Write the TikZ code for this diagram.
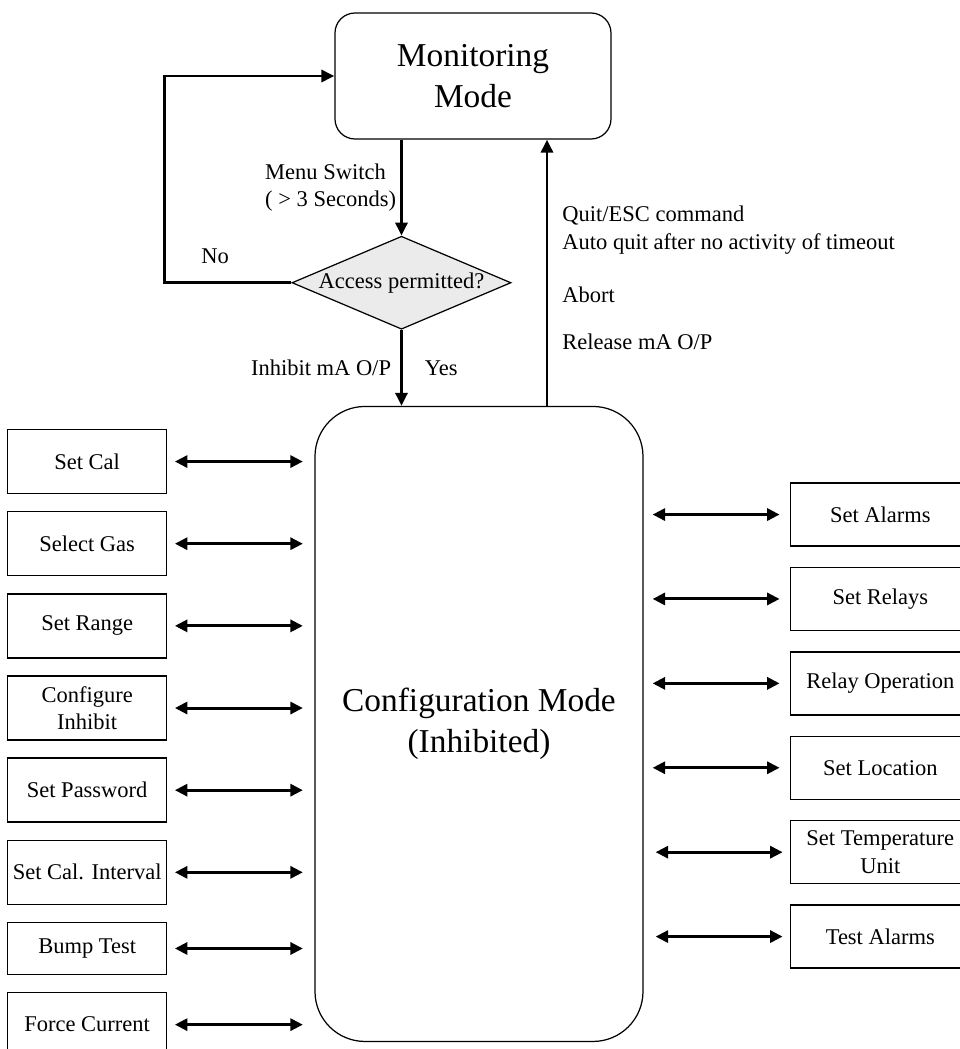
\documentclass[tikz,border=0pt]{standalone}
\usepackage{fontspec}
\setmainfont{Liberation Serif}
\usepackage{tikz}
\usetikzlibrary{shapes.geometric, arrows.meta, positioning}

\begin{document}
\begin{tikzpicture}[
  node distance=3.35mm,
  font=\fontsize{12.8}{15.6}\selectfont,
  mode/.style={rectangle, draw=black, line width=0.7pt, align=center,
               font=\fontsize{19}{23.4}\selectfont},
  decision/.style={diamond, aspect=2.35, draw=black, line width=0.7pt,
                   fill=black!8, inner sep=0pt, minimum width=43.8mm,
                   minimum height=18.6mm},
  opt/.style={rectangle, draw=black, line width=0.8pt, align=center,
              inner xsep=1mm, minimum width=31.8mm, minimum height=12.8mm},
  optr/.style={opt, minimum width=36mm, minimum height=12.6mm},
  lbl/.style={inner sep=0.5mm, align=left},
  arr/.style={-{Triangle[length=2.6mm, width=2.4mm]}, line width=1.7pt},
  link/.style={{Triangle[length=2.5mm, width=2.4mm]}-{Triangle[length=2.5mm, width=2.4mm]},
               line width=1.7pt}
]

% ---- page frame ----
\useasboundingbox (-94.6mm,15.2mm) rectangle (97.4mm,-194.6mm);
\clip (-94.6mm,15.2mm) rectangle (97.4mm,-194.6mm);

% ---- Modes and decision ----
\node[mode, rounded corners=4mm, minimum width=55.2mm, minimum height=25.2mm]
  (mon) {Monitoring\\Mode};
\node[decision, below=19.2mm of mon, xshift=-14.3mm] (acc) {Access permitted?};
\node[mode, rounded corners=10mm, minimum width=65.6mm, minimum height=127mm,
      below=15.2mm of acc, xshift=15.5mm] (cfg) {Configuration Mode\\(Inhibited)};

\draw[arr] (acc.north |- mon.south) -- node[lbl, left=0.3mm] {Menu Switch\\( > 3 Seconds)} (acc.north);
\draw[arr] (acc.south) -- node[lbl, left=1.3mm] {Inhibit mA O/P}
  node[lbl, right=3.9mm] {Yes} (acc.south |- cfg.north);
\draw[arr] (acc.west) -- node[lbl, above=3mm, pos=0.6] {No} ++(-25.4mm,0) |- (mon.west);

% return path
\coordinate[right=13.6mm of cfg.north] (back);
\draw[arr] (back) -- node[lbl, right=2.3mm, pos=0.48]
  {Quit/ESC command\\Auto quit after no activity of timeout\\[5.2mm]Abort\\[4mm]Release mA O/P}
  (back |- mon.south);

% ---- Left column ----
\node[opt, below left=4.6mm and 29.4mm of cfg.north west] (cal) {Set Cal};
\node[opt, below=of cal]   (gas)   {Select Gas};
\node[opt, below=of gas]   (range) {Set Range};
\node[opt, below=of range] (inh)   {Configure\\Inhibit};
\node[opt, below=of inh]   (pwd)   {Set Password};
\node[opt, below=of pwd]   (intv)  {Set Cal. Interval};
\node[opt, below=of intv, minimum height=10.4mm] (bump) {Bump Test};
\node[opt, below=of bump]  (force) {Force Current};

\draw[link, shorten <=1.5mm, shorten >=2.3mm] (cal.east)   -- (cal.east -| cfg.west);
\draw[link, shorten <=1.5mm, shorten >=2.3mm] (gas.east)   -- (gas.east -| cfg.west);
\draw[link, shorten <=1.5mm, shorten >=2.3mm] (range.east) -- (range.east -| cfg.west);
\draw[link, shorten <=1.5mm, shorten >=2.3mm] (inh.east)   -- (inh.east -| cfg.west);
\draw[link, shorten <=1.5mm, shorten >=2.3mm] (pwd.east)   -- (pwd.east -| cfg.west);
\draw[link, shorten <=1.5mm, shorten >=2.3mm] (intv.east)  -- (intv.east -| cfg.west);
\draw[link, shorten <=1.5mm, shorten >=2.3mm] (bump.east)  -- (bump.east -| cfg.west);
\draw[link, shorten <=1.5mm, shorten >=2.3mm] (force.east) -- (force.east -| cfg.west);

% ---- Right column ----
\node[optr, below right=15.3mm and 29.2mm of cfg.north east] (alm) {Set Alarms};
\node[optr, below=4mm of alm]  (rly)  {Set Relays};
\node[optr, below=4mm of rly]  (rop)  {Relay Operation};
\node[optr, below=4mm of rop]  (loc)  {Set Location};
\node[optr, below=4mm of loc]  (temp) {Set Temperature\\Unit};
\node[optr, below=4mm of temp] (talm) {Test Alarms};

\draw[link, shorten <=1.8mm, shorten >=2mm] (alm.west -| cfg.east)  -- (alm.west);
\draw[link, shorten <=1.8mm, shorten >=2mm] (rly.west -| cfg.east)  -- (rly.west);
\draw[link, shorten <=1.8mm, shorten >=2mm] (rop.west -| cfg.east)  -- (rop.west);
\draw[link, shorten <=1.8mm, shorten >=2mm] (loc.west -| cfg.east)  -- (loc.west);
\draw[link, shorten <=2.4mm, shorten >=1.4mm] (temp.west -| cfg.east) -- (temp.west);
\draw[link, shorten <=2.4mm, shorten >=1.4mm] (talm.west -| cfg.east) -- (talm.west);

\end{tikzpicture}
\end{document}
